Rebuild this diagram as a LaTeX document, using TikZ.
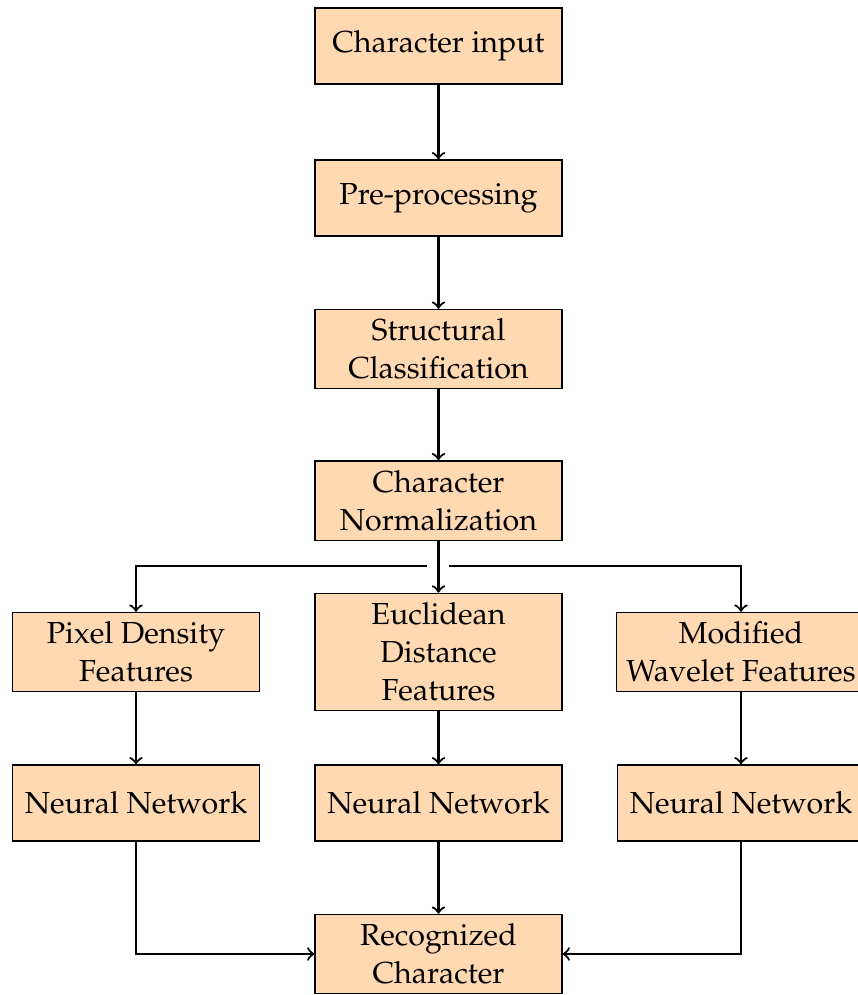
\documentclass[tikz,border=0pt]{standalone}
\usepackage[T1]{fontenc}
\usepackage{mathpazo}
\usetikzlibrary{arrows}

\tikzset{
  block/.style={draw=black, fill=orange!30, line width=0.4pt,
    minimum width=81.2pt, minimum height=25pt, align=center,
    inner ysep=3pt,
    font=\fontsize{10}{12.6}\selectfont},
  flow/.style={->, line width=0.7pt}
}

\begin{document}
\begin{tikzpicture}[x=0.3289pt, y=-0.3289pt]
  \useasboundingbox (0,0) rectangle (858,995);

  % main column
  \node[block] (input) at (438.5,46)  {Character input};
  \node[block] (pre)   at (438.5,198) {Pre-processing};
  \node[block] (struc) at (438.5,349) {Structural\\Classification};
  \node[block] (norm)  at (438.5,500.5) {Character\\Normalization};

  % feature extraction row
  \node[block] (pix) at (136,652)   {Pixel Density\\Features};
  \node[block] (euc) at (438.5,652) {Euclidean\\Distance\\Features};
  \node[block] (wav) at (741,652)   {Modified\\Wavelet Features};

  % classifiers
  \node[block] (nnA) at (136,803)   {Neural Network};
  \node[block] (nnB) at (438.5,803) {Neural Network};
  \node[block] (nnC) at (741,803)   {Neural Network};

  \node[block] (rec) at (438.5,954) {Recognized\\Character};

  % ends of the split line, leaving a gap round the centre arrow
  \coordinate (gapL) at (427,566);
  \coordinate (gapR) at (449,566);

  \draw[flow] (input) -- (pre);
  \draw[flow] (pre) -- (struc);
  \draw[flow] (struc) -- (norm);
  \draw[flow] (norm) -- (euc);
  \draw[flow] (gapL) -| (pix);
  \draw[flow] (gapR) -| (wav);

  \draw[flow] (pix) -- (nnA);
  \draw[flow] (euc) -- (nnB);
  \draw[flow] (wav) -- (nnC);

  \draw[flow] (nnA) |- (rec);
  \draw[flow] (nnB) -- (rec);
  \draw[flow] (nnC) |- (rec);
\end{tikzpicture}
\end{document}
